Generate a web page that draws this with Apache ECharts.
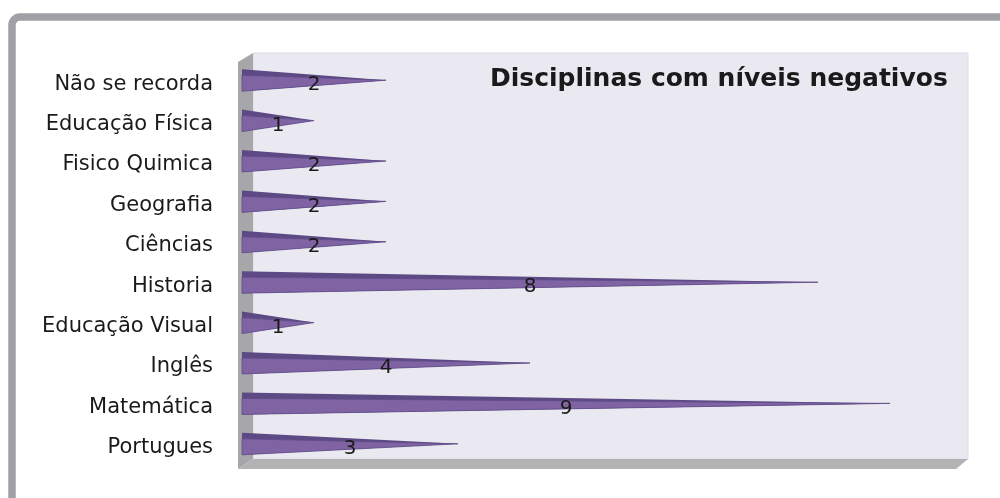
<!DOCTYPE html>
<html>
<head>
<meta charset="utf-8">
<script src="https://cdn.jsdelivr.net/npm/echarts@6/dist/echarts.min.js"></script>
<style>html,body{margin:0;padding:0;background:#fff;}#c{width:1000px;height:498px;}</style>
</head>
<body>
<div id="c"></div>
<script>
const titleText = 'Disciplinas com níveis negativos';
const categories = ['Portugues','Matemática','Inglês','Educação Visual','Historia','Ciências','Geografia','Fisico Quimica','Educação Física','Não se recorda'];
const values = [3, 9, 4, 1, 8, 2, 2, 2, 1, 2];

const chart = echarts.init(document.getElementById('c'));
const data = values.map((v, i) => [v, i]);

function renderWedge(params, api) {
  const v = api.value(0), idx = api.value(1);
  const base = api.coord([0, idx]);
  const tip = api.coord([v, idx]);
  const yc = base[1] - 4;
  const h = 11;
  const mid = api.coord([v / 2, idx]);
  return {
    type: 'group',
    children: [
      { type: 'polygon', shape: { points: [[base[0], yc - h], [tip[0], yc], [base[0], yc + h]] },
        style: { fill: '#5d4a85' } },
      { type: 'polygon', shape: { points: [[base[0], yc - h + 6], [tip[0], yc], [base[0], yc + h]] },
        style: { fill: '#7f63a2', stroke: '#604c89', lineWidth: 0.8 } },
      { type: 'text', style: { text: String(v), x: mid[0], y: mid[1] + 1, align: 'center', verticalAlign: 'middle',
        fontSize: 20, fontFamily: 'DejaVu Sans', fill: '#1a1a1a' } }
    ]
  };
}

chart.setOption({
  backgroundColor: '#ffffff',
  animation: false,
  title: {
    text: titleText, left: 485, top: 62,
    textStyle: { fontFamily: 'DejaVu Sans', fontWeight: 'bold', fontSize: 25, color: '#1a1a1a' }
  },
  graphic: [
    { type: 'rect', z: -10, shape: { x: 12, y: 17, width: 1100, height: 700, r: 8 },
      style: { fill: 'none', stroke: '#a0a1a5', lineWidth: 7.5 } },
    { type: 'rect', z: -10, shape: { x: 253, y: 53, width: 715, height: 406 },
      style: { fill: '#eae9f1', stroke: '#dcdbe3', lineWidth: 1 } },
    { type: 'polygon', z: -9, shape: { points: [[238, 62], [253, 53], [253, 459], [238, 469]] },
      style: { fill: '#a7a7aa' } },
    { type: 'polygon', z: -9, shape: { points: [[238, 469], [253, 459], [968, 459], [956, 469]] },
      style: { fill: '#b3b3b6' } }
  ],
  grid: { left: 242, top: 64, height: 404, width: 720, containLabel: false },
  xAxis: { type: 'value', min: 0, max: 10, show: false },
  yAxis: {
    type: 'category', data: categories,
    axisLine: { show: false }, axisTick: { show: false },
    axisLabel: { margin: 29, fontFamily: 'DejaVu Sans', fontSize: 21, color: '#1a1a1a' }
  },
  series: [{
    type: 'custom', renderItem: renderWedge, data: data,
    encode: { x: 0, y: 1 }, z: 5
  }]
});
</script>
</body>
</html>
